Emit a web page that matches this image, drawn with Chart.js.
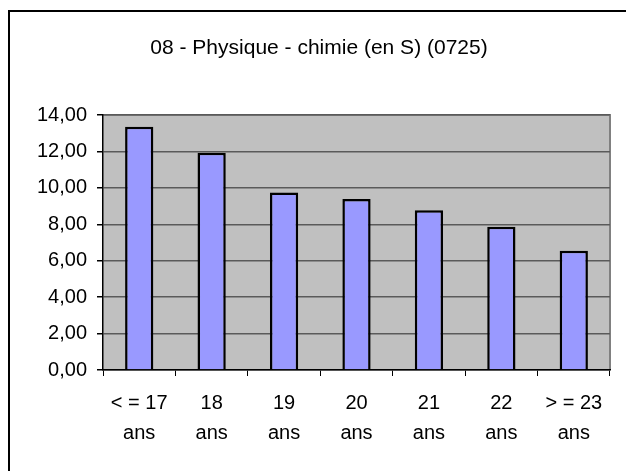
<!DOCTYPE html>
<html>
<head>
<meta charset="utf-8">
<script src="https://cdn.jsdelivr.net/npm/chart.js@4/dist/chart.umd.min.js"></script>
<style>
  html, body { margin: 0; padding: 0; background: #fff; }
  #wrap { position: relative; width: 626px; height: 471px; }
</style>
</head>
<body>
<div id="wrap"><canvas id="chart" width="626" height="471"></canvas></div>
<script>
const chartTitle = '08 - Physique - chimie (en S) (0725)';
const categories = [
    ['< = 17', 'ans'],
    ['18', 'ans'],
    ['19', 'ans'],
    ['20', 'ans'],
    ['21', 'ans'],
    ['22', 'ans'],
    ['> = 23', 'ans']
];
const values = [13.36, 11.93, 9.74, 9.39, 8.77, 7.87, 6.55];

// frame, plot background and title
const decorPlugin = {
    id: 'decor',
    beforeDraw(chart) {
        const ctx = chart.ctx;
        const a = chart.chartArea;
        ctx.save();
        ctx.strokeStyle = '#000';
        ctx.lineWidth = 2;
        ctx.strokeRect(9, 11, 700, 600);
        ctx.fillStyle = '#c0c0c0';
        ctx.fillRect(a.left, a.top, a.right - a.left, a.bottom - a.top);
        ctx.strokeStyle = '#808080';
        ctx.lineWidth = 2;
        ctx.beginPath();
        ctx.moveTo(a.left, a.top);
        ctx.lineTo(a.right, a.top);
        ctx.lineTo(a.right, a.bottom);
        ctx.stroke();
        ctx.fillStyle = '#000';
        ctx.font = '21px "Liberation Sans", Arial, sans-serif';
        ctx.textAlign = 'center';
        ctx.textBaseline = 'middle';
        ctx.fillText(chartTitle, 319, 48);
        ctx.restore();
    }
};

const ctx = document.getElementById('chart').getContext('2d');
new Chart(ctx, {
    type: 'bar',
    data: {
        labels: categories,
        datasets: [{
            data: values,
            backgroundColor: '#9999ff',
            borderColor: '#000',
            borderWidth: 2.5,
            barPercentage: 0.39,
            categoryPercentage: 1
        }]
    },
    options: {
        responsive: false,
        animation: false,
        layout: { padding: { left: 0, right: 16, top: 115, bottom: 0 } },
        plugins: {
            legend: { display: false },
            title: { display: false },
            tooltip: { enabled: false }
        },
        scales: {
            x: {
                grid: {
                    offset: true,
                    drawOnChartArea: false,
                    tickLength: 6,
                    tickColor: '#000'
                },
                border: { color: '#000', width: 1.5 },
                ticks: {
                    color: '#000',
                    padding: 12,
                    maxRotation: 0,
                    autoSkip: false,
                    font: { family: '"Liberation Sans", Arial, sans-serif', size: 20, lineHeight: 1.5 }
                },
                afterFit(scale) { scale.height = 101; }
            },
            y: {
                min: 0,
                max: 14,
                grid: {
                    color: '#5a5a5a',
                    lineWidth: 1.5,
                    tickLength: 6,
                    tickColor: '#000'
                },
                border: { color: '#000', width: 1.5 },
                ticks: {
                    stepSize: 2,
                    color: '#000',
                    padding: 10,
                    font: { family: '"Liberation Sans", Arial, sans-serif', size: 20 },
                    callback: v => v.toFixed(2).replace('.', ',')
                },
                afterFit(scale) { scale.width = 103; }
            }
        }
    },
    plugins: [decorPlugin]
});
</script>
</body>
</html>
